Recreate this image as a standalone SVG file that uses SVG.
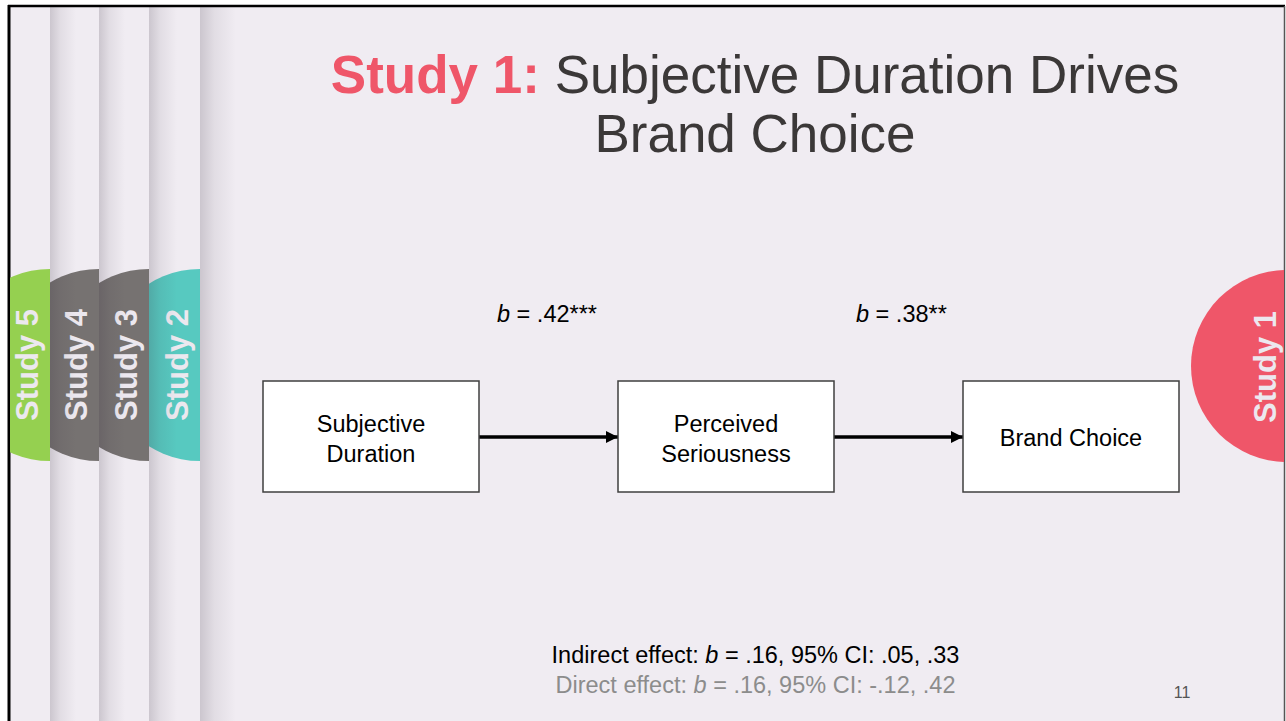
<svg xmlns="http://www.w3.org/2000/svg" width="1286" height="721" viewBox="0 0 1286 721">
  <defs>
    <style>
      .tabtxt { font-family: "Liberation Sans", Arial, sans-serif; font-weight: bold; font-size: 31px; fill: #ece8ef; text-anchor: middle; }
      .box { fill: #ffffff; stroke: #3f3f3f; stroke-width: 1.5; }
      .lbl { font-family: "Liberation Sans", Arial, sans-serif; font-size: 23.5px; fill: #000000; text-anchor: middle; }
      .coef { font-family: "Liberation Sans", Arial, sans-serif; font-size: 23.5px; fill: #000000; }
      .conn { stroke: #000000; stroke-width: 3.5; fill: none; marker-end: url(#arrow); }
      .title { font-family: "Liberation Sans", Arial, sans-serif; font-size: 53px; fill: #3b3838; text-anchor: middle; }
    </style>
    <marker id="arrow" markerUnits="userSpaceOnUse" markerWidth="13" markerHeight="12" refX="12" refY="6" orient="auto">
      <polygon points="0,0 12,6 0,12" fill="#000000"/>
    </marker>
    <linearGradient id="shadow" x1="0" y1="0" x2="1" y2="0">
      <stop offset="0" stop-color="#3a2f40" stop-opacity="0.2"/>
      <stop offset="0.4" stop-color="#3a2f40" stop-opacity="0.08"/>
      <stop offset="1" stop-color="#3a2f40" stop-opacity="0"/>
    </linearGradient>
    <clipPath id="c5"><rect x="10" y="0" width="40" height="721"/></clipPath>
    <clipPath id="c4"><rect x="50" y="0" width="49" height="721"/></clipPath>
    <clipPath id="c3"><rect x="99" y="0" width="50" height="721"/></clipPath>
    <clipPath id="c2"><rect x="149" y="0" width="51" height="721"/></clipPath>
    <clipPath id="c1"><rect x="1100" y="0" width="184" height="721"/></clipPath>
  </defs>

  <!-- page -->
  <rect x="0" y="0" width="1286" height="721" fill="#ffffff"/>
  <rect x="9" y="6" width="1276" height="716" fill="#f0ecf2"/>
  <line x1="8" y1="6" x2="1285" y2="6" stroke="#000000" stroke-width="2.5"/>
  <line x1="9" y1="5" x2="9" y2="721" stroke="#000000" stroke-width="3"/>
  <line x1="1284.5" y1="6" x2="1284.5" y2="721" stroke="#555555" stroke-width="1.5"/>

  <!-- tabs -->
  <g id="tab-study5">
    <circle cx="50" cy="365" r="96" fill="#95d050" clip-path="url(#c5)"/>
    <text class="tabtxt" transform="translate(38,365) rotate(-90)">Study 5</text>
  </g>
  <g id="tab-study4">
    <circle cx="99" cy="365" r="96" fill="#767271" clip-path="url(#c4)"/>
    <text class="tabtxt" transform="translate(87,365) rotate(-90)">Study 4</text>
  </g>
  <g id="tab-study3">
    <circle cx="149" cy="365" r="96" fill="#767271" clip-path="url(#c3)"/>
    <text class="tabtxt" transform="translate(137,365) rotate(-90)">Study 3</text>
  </g>
  <g id="tab-study2">
    <circle cx="200" cy="365" r="96" fill="#57c9c0" clip-path="url(#c2)"/>
    <text class="tabtxt" transform="translate(188,365) rotate(-90)">Study 2</text>
  </g>
  <g id="tab-study1">
    <circle cx="1287" cy="366" r="96" fill="#ef5669" clip-path="url(#c1)"/>
    <text class="tabtxt" transform="translate(1276,367) rotate(-90)">Study 1</text>
  </g>

  <!-- strip shadows -->
  <g id="strip-shadows">
    <rect x="50" y="7" width="26" height="714" fill="url(#shadow)"/>
    <rect x="99" y="7" width="26" height="714" fill="url(#shadow)"/>
    <rect x="149" y="7" width="28" height="714" fill="url(#shadow)"/>
    <rect x="200" y="7" width="36" height="714" fill="url(#shadow)"/>
  </g>

  <!-- title -->
  <g id="title">
    <text class="title" x="755" y="93"><tspan font-weight="bold" fill="#ef5669">Study 1:</tspan> Subjective Duration Drives</text>
    <text class="title" x="755" y="152">Brand Choice</text>
  </g>

  <!-- connectors -->
  <g id="connectors">
    <line id="edge-sd-ps" class="conn" x1="479" y1="437" x2="618" y2="437"/>
    <line id="edge-ps-bc" class="conn" x1="834" y1="437" x2="963" y2="437"/>
    <text class="coef" x="497" y="322"><tspan font-style="italic">b</tspan> = .42***</text>
    <text class="coef" x="856" y="322"><tspan font-style="italic">b</tspan> = .38**</text>
  </g>

  <!-- nodes -->
  <g id="node-subjective-duration">
    <rect class="box" x="263" y="381" width="216" height="111"/>
    <text class="lbl" x="371" y="432">Subjective</text>
    <text class="lbl" x="371" y="462">Duration</text>
  </g>
  <g id="node-perceived-seriousness">
    <rect class="box" x="618" y="381" width="216" height="111"/>
    <text class="lbl" x="726" y="432">Perceived</text>
    <text class="lbl" x="726" y="462">Seriousness</text>
  </g>
  <g id="node-brand-choice">
    <rect class="box" x="963" y="381" width="216" height="111"/>
    <text class="lbl" x="1071" y="446">Brand Choice</text>
  </g>

  <!-- effects -->
  <g id="effects">
    <text class="lbl" x="755.5" y="663">Indirect effect: <tspan font-style="italic">b</tspan> = .16, 95% CI: .05, .33</text>
    <text class="lbl" x="755.5" y="693" fill="#8c8c8c" style="fill:#8c8c8c">Direct effect: <tspan font-style="italic">b</tspan> = .16, 95% CI: -.12, .42</text>
  </g>

  <text id="page-number" x="1182" y="698" font-family="Liberation Sans, Arial, sans-serif" font-size="16" fill="#555555" text-anchor="middle">11</text>
</svg>
